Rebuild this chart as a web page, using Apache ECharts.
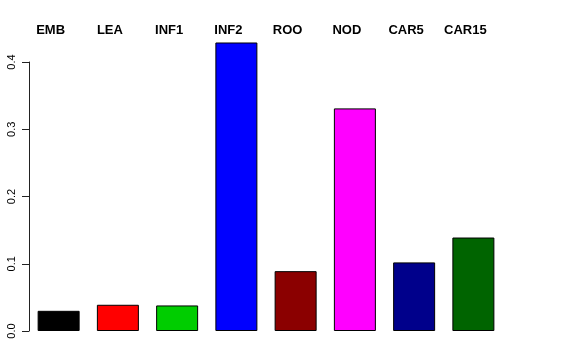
<!DOCTYPE html>
<html><head><meta charset="utf-8">
<script src="https://cdn.jsdelivr.net/npm/echarts@6/dist/echarts.min.js"></script>
<style>html,body{margin:0;padding:0;background:#fff}#c{width:576px;height:360px}</style>
</head><body><div id="c"></div>
<script>
const categories = ['EMB','LEA','INF1','INF2','ROO','NOD','CAR5','CAR15'];
const values = [0.030, 0.039, 0.038, 0.429, 0.089, 0.331, 0.102, 0.139];
const colors = ['#000000','#FF0000','#00CD00','#0000FF','#8B0000','#FF00FF','#00008B','#006400'];
const yTicks = [0, 0.1, 0.2, 0.3, 0.4];

const chart = echarts.init(document.getElementById('c'), null, {renderer:'canvas'});
chart.setOption({
  animation:false,
  backgroundColor:'#fff',
  grid:{left:29, right:73, top:62, bottom:29, containLabel:false},
  xAxis:{type:'category', data:categories, position:'top',
    axisLine:{show:false}, axisTick:{show:false},
    axisLabel:{fontFamily:'Liberation Sans, Arial, sans-serif', fontWeight:'bold', fontSize:13,
      color:'#000', margin:25, padding:[0,16,0,0], interval:0}},
  yAxis:{type:'value', min:0, max:0.4, interval:0.1, splitLine:{show:false},
    axisLine:{show:true, lineStyle:{color:'#222', width:1}},
    axisTick:{show:true, length:7, lineStyle:{color:'#222'}},
    axisLabel:{rotate:90, fontFamily:'Liberation Sans, Arial, sans-serif', fontSize:11, color:'#000',
      margin:12, formatter:v=>yTicks.includes(v) ? v.toFixed(1) : ''}},
  series:[{type:'bar', clip:false, barWidth:42,
    data: values.map((v,i)=>({value:v, itemStyle:{color:colors[i]}})),
    itemStyle:{borderColor:'#000', borderWidth:1}}]
});
</script></body></html>
